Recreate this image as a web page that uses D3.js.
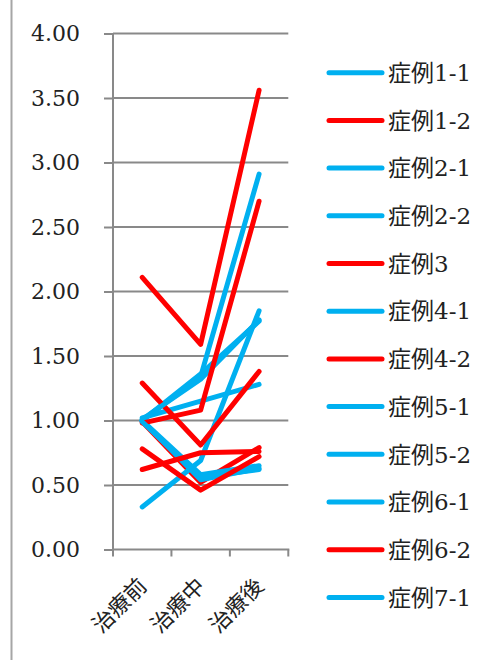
<!DOCTYPE html>
<html>
<head>
<meta charset="utf-8">
<script src="https://cdn.jsdelivr.net/npm/d3@7"></script>
<style>
  html, body { margin: 0; padding: 0; background: #fff; }
  svg { display: block; }
</style>
</head>
<body>
<svg id="chart" width="497" height="660"></svg>
<script>
// ---- data ----
const categories = ["治療前", "治療中", "治療後"];
const yTickValues = [0, 0.5, 1, 1.5, 2, 2.5, 3, 3.5, 4];

const seriesNames = ["症例1-1", "症例1-2", "症例2-1", "症例2-2", "症例3", "症例4-1",
                     "症例4-2", "症例5-1", "症例5-2", "症例6-1", "症例6-2", "症例7-1",
                     "症例7-2", "症例8"];
const seriesColors = ["#00B0F0", "#FF0000", "#00B0F0", "#00B0F0", "#FF0000", "#00B0F0",
                      "#FF0000", "#00B0F0", "#00B0F0", "#00B0F0", "#FF0000", "#00B0F0",
                      "#FF0000", "#FF0000"];
const case1_1 = [1.00, 1.34, 2.91];
const case1_2 = [0.99, 0.52, 0.79];
const case2_1 = [1.00, 1.36, 1.77];
const case2_2 = [1.02, 1.15, 1.28];
const case3   = [2.11, 1.59, 3.56];
const case4_1 = [0.33, 0.69, 1.85];
const case4_2 = [1.29, 0.81, 1.38];
const case5_1 = [1.00, 0.54, 0.63];
const case5_2 = [1.00, 0.58, 0.65];
const case6_1 = [1.01, 1.32, 1.78];
const case6_2 = [0.98, 1.08, 2.70];
const case7_1 = [0.99, 0.56, 0.62];
const case7_2 = [0.62, 0.75, 0.76];
const case8   = [0.78, 0.46, 0.72];
const seriesValues = [case1_1, case1_2, case2_1, case2_2, case3, case4_1, case4_2,
                      case5_1, case5_2, case6_1, case6_2, case7_1, case7_2, case8];
const legendCount = 12; // legend shows only the first 12 entries

// ---- layout ----
const svg = d3.select("#chart");
const plot = { left: 113, right: 288.3, top: 33.5, bottom: 549.5 };
const gridColor = "#898989";
const numFont = "'DejaVu Serif', 'Noto Sans CJK JP', serif";

// outer left border
svg.append("line")
  .attr("x1", 11.5).attr("x2", 11.5).attr("y1", 0).attr("y2", 660)
  .attr("stroke", "#a6a6a6").attr("stroke-width", 2);

const x = d3.scaleBand().domain(categories).range([plot.left, plot.right]).padding(0);
const y = d3.scaleLinear().domain([0, 4]).range([plot.bottom, plot.top]);
const cx = c => x(c) + x.bandwidth() / 2;

// gridlines
svg.append("g").selectAll("line").data(yTickValues.filter(v => v > 0)).join("line")
  .attr("x1", plot.left).attr("x2", plot.right)
  .attr("y1", d => y(d)).attr("y2", d => y(d))
  .attr("stroke", gridColor).attr("stroke-width", 2);

// y axis
const yAxis = svg.append("g")
  .attr("transform", `translate(${plot.left},0)`)
  .call(d3.axisLeft(y).tickValues(yTickValues).tickFormat(d3.format(".2f"))
        .tickSize(9).tickPadding(24));
yAxis.select(".domain").attr("stroke", gridColor).attr("stroke-width", 2)
  .attr("d", `M0,${plot.bottom}V${plot.top}`);
yAxis.selectAll(".tick line").attr("stroke", gridColor).attr("stroke-width", 2);
yAxis.selectAll(".tick text")
  .attr("font-family", numFont).attr("font-size", 22).attr("fill", "#222");

// x axis
const xg = svg.append("g");
xg.append("line")
  .attr("x1", plot.left - 1).attr("x2", plot.right + 1)
  .attr("y1", plot.bottom).attr("y2", plot.bottom)
  .attr("stroke", gridColor).attr("stroke-width", 2);
const bounds = categories.map(c => x(c)).concat([plot.right]);
xg.selectAll("line.tk").data(bounds).join("line").attr("class", "tk")
  .attr("x1", d => d).attr("x2", d => d)
  .attr("y1", plot.bottom).attr("y2", plot.bottom + 7)
  .attr("stroke", gridColor).attr("stroke-width", 2);
xg.selectAll("text").data(categories).join("text")
  .attr("transform", d => `translate(${cx(d) + 6},${plot.bottom + 38}) rotate(-45)`)
  .attr("text-anchor", "end")
  .attr("font-family", "'Noto Sans CJK JP', sans-serif")
  .attr("font-size", 22).attr("fill", "#222")
  .text(d => d);

// lines
const lineGen = d3.line().x((d, i) => cx(categories[i])).y(d => y(d));
svg.append("g").selectAll("path").data(seriesValues).join("path")
  .attr("d", d => lineGen(d))
  .attr("fill", "none")
  .attr("stroke", (d, i) => seriesColors[i])
  .attr("stroke-width", 5)
  .attr("stroke-linecap", "round")
  .attr("stroke-linejoin", "round");

// legend
const legend = svg.append("g");
const legY = i => 72.7 + i * 47.7;
const items = seriesNames.slice(0, legendCount);
legend.selectAll("line").data(items).join("line")
  .attr("x1", 329).attr("x2", 382)
  .attr("y1", (d, i) => legY(i)).attr("y2", (d, i) => legY(i))
  .attr("stroke", (d, i) => seriesColors[i])
  .attr("stroke-width", 5).attr("stroke-linecap", "round");
legend.selectAll("text").data(items).join("text")
  .attr("x", 388).attr("y", (d, i) => legY(i))
  .attr("dy", "0.36em")
  .attr("font-family", numFont)
  .attr("font-size", 23).attr("fill", "#222")
  .text(d => d);
</script>
</body>
</html>
